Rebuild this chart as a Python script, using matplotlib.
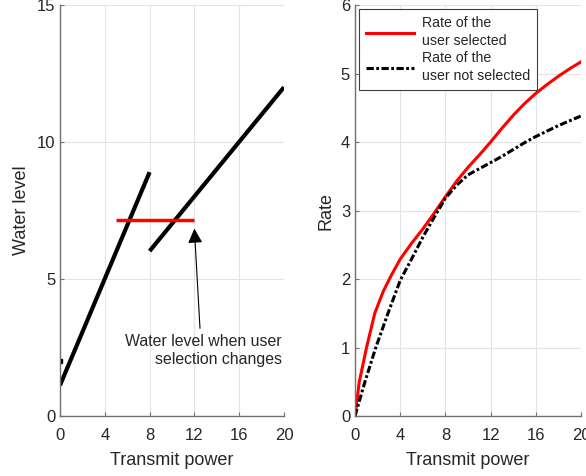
import matplotlib
matplotlib.use("Agg")
import matplotlib.pyplot as plt

plt.rcParams['font.family'] = ['Liberation Sans', 'DejaVu Sans']

# Left panel data
wl1_x = [0, 8]
wl1_y = [1.12, 8.9]
wl2_x = [8, 20]
wl2_y = [6.02, 12.0]
pt_x = [0]
pt_y = [2.0]
red_x = [5, 12]
red_y = [7.14, 7.14]

# Right panel data
power_sel = [0, 0.38, 1.02, 1.75, 2.5, 3.2, 4, 5, 6, 7, 8, 9, 10, 11, 12, 13, 14, 15, 16, 17, 18, 19, 20]
rate_sel = [0, 0.5, 1.0, 1.5, 1.82, 2.05, 2.29, 2.52, 2.73, 2.96, 3.20, 3.43, 3.63, 3.81, 4.0,
            4.2, 4.39, 4.56, 4.71, 4.84, 4.96, 5.07, 5.17]
power_not = [0, 0.88, 1.84, 2.92, 4, 5, 6, 7, 8, 9, 10, 11, 12, 13, 14, 15, 16, 17, 18, 19, 20]
rate_not = [0, 0.5, 1.0, 1.5, 1.98, 2.29, 2.61, 2.90, 3.18, 3.37, 3.52, 3.61, 3.70,
            3.79, 3.89, 3.99, 4.08, 4.16, 4.24, 4.31, 4.38]

xticks = [0, 4, 8, 12, 16, 20]

fig = plt.figure(figsize=(5.86, 4.76), dpi=100)
ax1 = fig.add_axes([0.1024, 0.126, 0.3822, 0.8635])
ax2 = fig.add_axes([0.6058, 0.126, 0.3857, 0.8635])

axis_col = '#707070'
for ax in (ax1, ax2):
    for s in ('top', 'right'):
        ax.spines[s].set_visible(False)
    for s in ('left', 'bottom'):
        ax.spines[s].set_color(axis_col)
        ax.spines[s].set_linewidth(1.0)
    ax.grid(True, color='#e3e3e3', lw=0.8)
    ax.set_axisbelow(True)
    ax.tick_params(direction='in', length=3, color=axis_col, labelsize=12,
                   labelcolor='#262626')
    ax.tick_params(axis='x', pad=8.5)
    ax.tick_params(axis='y', pad=3.5)
    ax.set_xlim(0, 20)
    ax.set_xticks(xticks)
    ax.set_xlabel('Transmit power', fontsize=13, labelpad=6.5, color='#262626')

# Left
ax1.plot(wl1_x, wl1_y, color='black', lw=3, solid_capstyle='butt')
ax1.plot(wl2_x, wl2_y, color='black', lw=3, solid_capstyle='butt')
ax1.plot(pt_x, pt_y, 's', color='black', ms=2.5)
ax1.plot(red_x, red_y, color='red', lw=2.5, solid_capstyle='butt')
ax1.set_ylim(0, 15)
ax1.set_yticks([0, 5, 10, 15])
ax1.set_ylabel('Water level', fontsize=13, labelpad=4.5, color='#262626')
ax1.annotate('', xy=(12.0, 6.84), xytext=(12.5, 3.2),
             arrowprops=dict(arrowstyle='-|>', lw=0.8, color='black', mutation_scale=22,
                             shrinkA=0, shrinkB=0))
ax1.text(19.82, 2.4, 'Water level when user\nselection changes', ha='right', va='center',
         multialignment='right', fontsize=11.4, color='#262626', linespacing=1.27)

# Right
ax2.plot(power_sel, rate_sel, color='red', lw=2.2, label='Rate of the\nuser selected')
ax2.plot(power_not, rate_not, color='black', lw=2.2, dashes=(2.4, 0.8, 0.9, 0.8),
         label='Rate of the\nuser not selected')
ax2.set_ylim(0, 6)
ax2.set_yticks([0, 1, 2, 3, 4, 5, 6])
ax2.set_ylabel('Rate', fontsize=13, labelpad=4.5, color='#262626')
leg = ax2.legend(loc='upper left', fontsize=10.2, fancybox=False, framealpha=1,
                 edgecolor='#404040', handlelength=3.4, borderaxespad=0.3,
                 labelspacing=0.25, handletextpad=0.5, borderpad=0.5)
leg.get_frame().set_linewidth(0.8)
for t in leg.get_texts():
    t.set_color('#262626')
    t.set_linespacing(1.32)

fig.savefig('out.png', dpi=100)
